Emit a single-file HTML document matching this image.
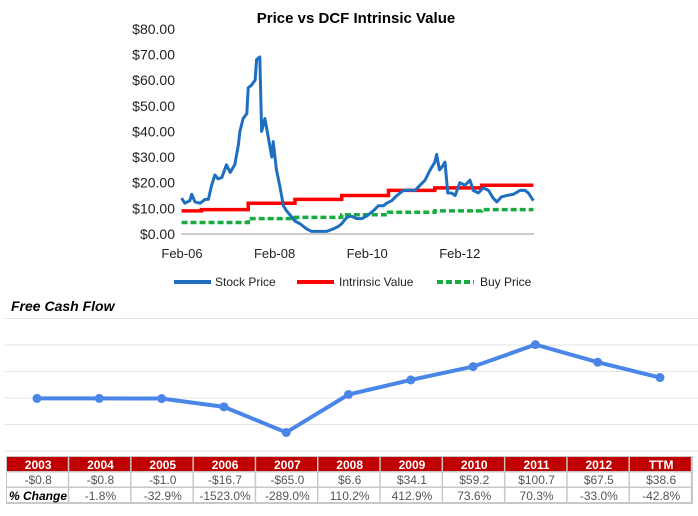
<!DOCTYPE html>
<html><head><meta charset="utf-8"><style>
body{margin:0;background:#fff;width:698px;height:516px;overflow:hidden;font-family:"Liberation Sans",sans-serif}
svg{position:absolute;left:0;top:0}
</style></head><body>
<svg width="698" height="516" id="svg">
<text x="356" y="23" text-anchor="middle" font-size="15" font-weight="bold">Price vs DCF Intrinsic Value</text>
<g id="topchart"></g>
<text x="11" y="311" font-size="14" font-weight="bold" font-style="italic">Free Cash Flow</text>
<g id="bot"></g>
<g id="tbl"></g>
</svg>
<script>
const priceDates=[2006.07,2006.14,2006.25,2006.29,2006.36,2006.47,2006.58,2006.65,2006.72,2006.79,2006.86,2006.94,2007.04,2007.12,2007.22,2007.30,2007.33,2007.40,2007.48,2007.51,2007.58,2007.66,2007.69,2007.76,2007.80,2007.87,2007.94,2008.02,2008.05,2008.12,2008.20,2008.27,2008.34,2008.41,2008.52,2008.63,2008.77,2008.88,2009.06,2009.20,2009.35,2009.46,2009.53,2009.64,2009.74,2009.85,2009.96,2010.07,2010.21,2010.32,2010.43,2010.50,2010.61,2010.72,2010.86,2011.00,2011.11,2011.22,2011.33,2011.44,2011.54,2011.58,2011.64,2011.69,2011.76,2011.82,2011.90,2011.98,2012.08,2012.19,2012.30,2012.37,2012.48,2012.59,2012.70,2012.80,2012.88,2012.98,2013.09,2013.24,2013.38,2013.49,2013.56,2013.67];
const priceValues=[14,12,13,15.5,12.5,12,13.5,13.5,19,23,21.5,22,27,24,27,35,40,45,47,57,58,60,68,69,40,45,38,30,36,25,18,11,9,7.5,5,4,2,1,1,1,2,3,4,6.5,7,6,6,7,9,11,11,12,13,15,17,17,17,19,21,25,28,31,25,26,28,16,16,15,20,19,21,17,16,18,17,14,12.5,14.5,15,15.5,17,17,16,13];
const stepDates=[2006.07,2006.5,2007.51,2008.52,2009.53,2010.54,2011.54,2012.55,2013.67];
const intrinsicValues=[9,9.5,12,13.5,15,17,18,19,19];
const buyValues=[4.5,4.5,6,6.5,7.5,8.5,9,9.5,9.5];
const yTicks=[0,10,20,30,40,50,60,70,80];
const xTickYears=[2006.08,2008.08,2010.08,2012.08];
const xTickLabels=["Feb-06","Feb-08","Feb-10","Feb-12"];

const fcfYears=["2003","2004","2005","2006","2007","2008","2009","2010","2011","2012","TTM"];
const fcfValues=[-0.8,-0.8,-1.0,-16.7,-65.0,6.6,34.1,59.2,100.7,67.5,38.6];
const pctChange=["-1.8%","-32.9%","-1523.0%","-289.0%","110.2%","412.9%","73.6%","70.3%","-33.0%","-42.8%"];
const fcfGrid=[150,100,50,0,-50,-100];

const NS="http://www.w3.org/2000/svg";
function mk(p,t,a){const e=document.createElementNS(NS,t);for(const k in a)e.setAttribute(k,a[k]);p.appendChild(e);return e;}
const topG=document.getElementById('topchart');
const px=y=>182+(y-2006.08)*46.3;
const py=v=>234-v*2.565;
yTicks.forEach(v=>{const t=mk(topG,'text',{x:175,y:py(v)+5,'text-anchor':'end','font-size':14,fill:'#222'});t.textContent='$'+v.toFixed(2);

});
const ax=mk(topG,'line',{x1:181,x2:534,y1:234,y2:234,stroke:'#999','stroke-width':1});


xTickYears.forEach((y,i)=>{const t=mk(topG,'text',{x:px(y),y:258,'text-anchor':'middle','font-size':13,fill:'#222'});t.textContent=xTickLabels[i];

});
function stepPts(vals){let s=[];stepDates.forEach((d,i)=>{if(i>0)s.push(px(d)+','+py(vals[i-1]));s.push(px(d)+','+py(vals[i]));});return s.join(' ');}
const bl=mk(topG,'polyline',{points:stepPts(buyValues),fill:'none',stroke:'#1aab40','stroke-width':3.5,'stroke-dasharray':'6,3'});


const il=mk(topG,'polyline',{points:stepPts(intrinsicValues),fill:'none',stroke:'#ff0000','stroke-width':3.5});


const sl=mk(topG,'polyline',{points:priceDates.map((d,i)=>px(d)+','+py(priceValues[i])).join(' '),fill:'none',stroke:'#1f6fc0','stroke-width':3,'stroke-linejoin':'round'});


[["Stock Price","#1f6fc0",'',174,215],["Intrinsic Value","#ff0000",'',297,339],["Buy Price","#1aab40",'6,3',437,480]].forEach(l=>{
const g=mk(topG,'g',{});


mk(g,'line',{x1:l[3],x2:l[3]+37,y1:282,y2:282,stroke:l[1],'stroke-width':4,'stroke-dasharray':l[2]});
const t=mk(g,'text',{x:l[4],y:286,'font-size':12,fill:'#222'});t.textContent=l[0];});

const bot=document.getElementById('bot');
const fy=v=>398-v*0.53;
const fx=i=>37+i*62.3;
fcfGrid.forEach(v=>{const l=mk(bot,'line',{x1:5,x2:698,y1:fy(v),y2:fy(v),stroke:'#e4e4e4','stroke-width':1});

});
const fl=mk(bot,'polyline',{points:fcfValues.map((v,i)=>fx(i)+','+fy(v)).join(' '),fill:'none',stroke:'#4a86e8','stroke-width':4});


fcfValues.forEach((v,i)=>{const c=mk(bot,'circle',{cx:fx(i),cy:fy(v),r:4.5,fill:'#4a86e8'});

});

const tbl=document.getElementById('tbl');
mk(tbl,'rect',{x:6,y:456,width:687,height:48,fill:'#c8c8c8'});
const cw=62.3;
fcfYears.forEach((y,i)=>{const x=7+i*cw;
const h=mk(tbl,'rect',{x:x,y:457,width:cw-1.5,height:14,fill:'#c00000'});


let t=mk(tbl,'text',{x:x+cw/2,y:469,'text-anchor':'middle','font-size':12,'font-weight':'bold',fill:'#fff'});t.textContent=y;
const r=mk(tbl,'rect',{x:x,y:472.5,width:cw-1.5,height:14,fill:'#fff'});


const v=fcfValues[i];
t=mk(tbl,'text',{x:x+cw/2,y:484,'text-anchor':'middle','font-size':12,fill:'#555'});t.textContent=(v<0?'-$':'$')+Math.abs(v).toFixed(1);
const r2=mk(tbl,'rect',{x:x,y:488,width:cw-1.5,height:14,fill:'#fff'});


t=mk(tbl,'text',{x:i==0?x+2:x+cw/2,y:500,'text-anchor':i==0?'start':'middle','font-size':12,fill:i==0?'#000':'#555','font-weight':i==0?'bold':'normal','font-style':i==0?'italic':'normal'});
t.textContent=i==0?'% Change':pctChange[i-1];});
</script>
</body></html>
